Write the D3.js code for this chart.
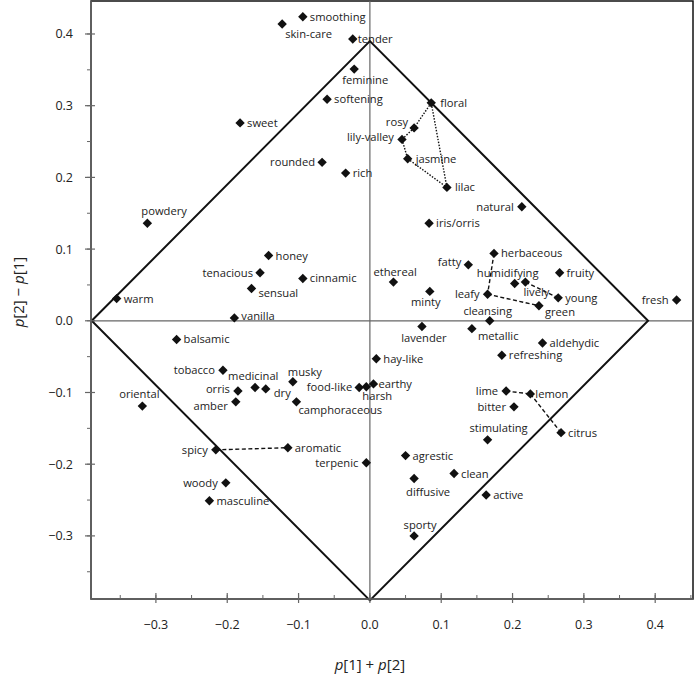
<!DOCTYPE html>
<html><head><meta charset="utf-8">
<script src="https://cdn.jsdelivr.net/npm/d3@7"></script>
<style>body{margin:0;background:#fff}svg{display:block}text{font-family:"Open Sans","Noto Sans",sans-serif}</style>
</head><body><svg id="c" width="696" height="675"></svg>
<script>
const names = ["smoothing","skin-care","tender","feminine","softening","floral","sweet","rosy","lily-valley","jasmine","rounded","rich","lilac","natural","iris/orris","powdery","honey","tenacious","cinnamic","sensual","warm","vanilla","herbaceous","fatty","humidifying","lively","fruity","ethereal","minty","leafy","young","green","fresh","cleansing","lavender","metallic","aldehydic","refreshing","balsamic","tobacco","oriental","orris","amber","medicinal","dry","musky","camphoraceous","food-like","harsh","earthy","hay-like","spicy","aromatic","terpenic","lime","lemon","bitter","citrus","stimulating","agrestic","clean","diffusive","active","sporty","woody","masculine"];
const xs = [-0.094,-0.123,-0.024,-0.022,-0.060,0.086,-0.182,0.062,0.045,0.053,-0.067,-0.034,0.108,0.213,0.083,-0.312,-0.142,-0.154,-0.094,-0.166,-0.355,-0.190,0.174,0.138,0.203,0.218,0.266,0.033,0.084,0.165,0.264,0.237,0.430,0.168,0.073,0.143,0.242,0.185,-0.271,-0.206,-0.319,-0.185,-0.188,-0.161,-0.146,-0.108,-0.103,-0.015,-0.005,0.005,0.009,-0.216,-0.115,-0.005,0.191,0.225,0.202,0.268,0.165,0.050,0.118,0.062,0.163,0.062,-0.202,-0.225];
const ys = [0.424,0.414,0.393,0.351,0.309,0.304,0.276,0.269,0.253,0.226,0.221,0.206,0.186,0.159,0.136,0.136,0.091,0.067,0.059,0.045,0.031,0.004,0.094,0.078,0.052,0.054,0.067,0.054,0.041,0.037,0.032,0.021,0.029,0.000,-0.008,-0.011,-0.031,-0.048,-0.026,-0.069,-0.119,-0.098,-0.113,-0.093,-0.095,-0.085,-0.113,-0.093,-0.092,-0.088,-0.053,-0.180,-0.177,-0.198,-0.098,-0.102,-0.120,-0.156,-0.166,-0.188,-0.213,-0.220,-0.243,-0.300,-0.226,-0.251];
const xTicks = [-0.3,-0.2,-0.1,0.0,0.1,0.2,0.3,0.4];
const yTicks = [-0.3,-0.2,-0.1,0.0,0.1,0.2,0.3,0.4];
const dottedLinks = [["floral","rosy"],["rosy","lily-valley"],["lily-valley","jasmine"],["jasmine","lilac"],["lilac","floral"]];
const dashedLinks = [["herbaceous","leafy"],["leafy","green"],["lively","young"],["spicy","aromatic"],["lime","lemon"],["lemon","citrus"]];
const diamondR = 0.39;

// label placement: [dx, dy, anchor]
const place = {"skin-care":[3,14,"start"],"feminine":[-12,15,"start"],"rosy":[-6,-2,"end"],"lily-valley":[-8,2,"end"],
"rounded":[-7,4,"end"],"natural":[-8,4,"end"],"powdery":[-6,-8,"start"],"tenacious":[-7,4,"end"],"sensual":[7,8,"start"],
"vanilla":[7,2,"start"],"tobacco":[-8,4,"end"],"medicinal":[-27,-7,"start"],"musky":[-5,-6,"start"],"orris":[-8,2,"end"],
"amber":[-8,8,"end"],"oriental":[-3,-8,"middle"],"dry":[8,8,"start"],"camphoraceous":[2,12,"start"],"food-like":[-7,4,"end"],
"harsh":[-4,13,"start"],"spicy":[-8,4,"end"],"terpenic":[-8,4,"end"],"woody":[-8,4,"end"],"lime":[-8,4,"end"],
"lemon":[5,4,"start"],"bitter":[-8,4,"end"],"stimulating":[11,-8,"middle"],"diffusive":[14,17,"middle"],"sporty":[6,-7,"middle"],
"fatty":[-7,1,"end"],"humidifying":[-7,-7,"middle"],"lively":[11,14,"middle"],"ethereal":[-20,-6,"start"],"minty":[-4,15,"middle"],
"leafy":[-8,4,"end"],"green":[6,10,"start"],"fresh":[-8,4,"end"],"cleansing":[-2,-6,"middle"],"lavender":[2,15,"middle"],
"metallic":[6,11,"start"],"tender":[5,4,"start"],"earthy":[5,4,"start"],"lilac":[8,4,"start"],"floral":[9,4,"start"],"jasmine":[8,4,"start"]};

const svg = d3.select("#c");
const L=91,R=693,T=1,B=599;
const x = d3.scaleLinear().domain([-0.391,0.453]).range([L,R]);
const y = d3.scaleLinear().domain([-0.388,0.446]).range([B,T]);
const pts = new Map(names.map((n,i)=>[n,{n,x:xs[i],y:ys[i]}]));

svg.append("rect").attr("x",L).attr("y",T).attr("width",R-L).attr("height",B-T).attr("fill","none").attr("stroke","#111").attr("stroke-width",1.5);
svg.append("line").attr("x1",x(0)).attr("x2",x(0)).attr("y1",T).attr("y2",B).attr("stroke","#666").attr("stroke-width",1.2);
svg.append("line").attr("x1",L).attr("x2",R).attr("y1",y(0)).attr("y2",y(0)).attr("stroke","#666").attr("stroke-width",1.2);
const dia=[[-diamondR,0],[0,diamondR],[diamondR,0],[0,-diamondR]];
svg.append("polygon").attr("points",dia.map(d=>x(d[0])+","+y(d[1])).join(" ")).attr("fill","none").attr("stroke","#111").attr("stroke-width",2);

const minorX = d3.range(-0.35,0.451,0.05).map(v=>+v.toFixed(2));
const xAxis = svg.append("g").attr("transform",`translate(0,${B})`);
xAxis.append("line").attr("x1",L).attr("x2",R).attr("stroke","#666").attr("stroke-width",1.5);
xAxis.selectAll(".mn").data(minorX).join("line").attr("x1",d=>x(d)).attr("x2",d=>x(d)).attr("y1",0).attr("y2",-4).attr("stroke","#666");
xAxis.selectAll(".mj").data(xTicks).join("line").attr("x1",d=>x(d)).attr("x2",d=>x(d)).attr("y1",4).attr("y2",-6).attr("stroke","#666").attr("stroke-width",1.2);
xAxis.selectAll("text").data(xTicks).join("text").attr("x",d=>x(d)).attr("y",30).attr("text-anchor","middle").attr("font-size",12.5).attr("fill","#222").text(d=>d3.format(".1f")(d).replace("-","−"));
const minorY = d3.range(-0.35,0.441,0.05).map(v=>+v.toFixed(2));
const yAxis = svg.append("g").attr("transform",`translate(${L},0)`);
yAxis.append("line").attr("y1",T).attr("y2",B).attr("stroke","#666").attr("stroke-width",1.5);
yAxis.selectAll(".mn").data(minorY).join("line").attr("y1",d=>y(d)).attr("y2",d=>y(d)).attr("x1",0).attr("x2",-4).attr("stroke","#666");
yAxis.selectAll(".mj").data(yTicks).join("line").attr("y1",d=>y(d)).attr("y2",d=>y(d)).attr("x1",-6).attr("x2",4).attr("stroke","#666").attr("stroke-width",1.2);
yAxis.selectAll("text").data(yTicks).join("text").attr("x",-18).attr("y",d=>y(d)+4.5).attr("text-anchor","end").attr("font-size",12.5).attr("fill","#222").text(d=>d3.format(".1f")(d).replace("-","−"));

const xt = svg.append("text").attr("x",x(0)).attr("y",670).attr("text-anchor","middle").attr("font-size",15).attr("fill","#222");
xt.append("tspan").attr("font-style","italic").text("p");xt.append("tspan").text("[1] + ");
xt.append("tspan").attr("font-style","italic").text("p");xt.append("tspan").text("[2]");
const yt = svg.append("text").attr("transform",`translate(24,${y(0.04)}) rotate(-90)`).attr("text-anchor","middle").attr("font-size",15).attr("fill","#222");
yt.append("tspan").attr("font-style","italic").text("p");yt.append("tspan").text("[2] − ");
yt.append("tspan").attr("font-style","italic").text("p");yt.append("tspan").text("[1]");

function links(arr,dash){svg.selectAll(null).data(arr).join("line")
 .attr("x1",d=>x(pts.get(d[0]).x)).attr("y1",d=>y(pts.get(d[0]).y))
 .attr("x2",d=>x(pts.get(d[1]).x)).attr("y2",d=>y(pts.get(d[1]).y))
 .attr("stroke","#111").attr("stroke-width",1.4).attr("stroke-dasharray",dash);}
links(dottedLinks,"1.5,1.5");
links(dashedLinks,"4,2.5");

const sym = d3.symbol().type(d3.symbolSquare).size(44);
svg.selectAll(".pt").data([...pts.values()]).join("path")
 .attr("transform",d=>`translate(${x(d.x)},${y(d.y)}) rotate(45)`).attr("d",sym).attr("fill","#111");
svg.selectAll(".lb").data([...pts.values()]).join("text")
 .attr("x",d=>x(d.x)+(place[d.n]?place[d.n][0]:7)).attr("y",d=>y(d.y)+(place[d.n]?place[d.n][1]:4))
 .attr("text-anchor",d=>place[d.n]?place[d.n][2]:"start").attr("font-size",11.2).attr("fill","#222").text(d=>d.n);
</script></body></html>
